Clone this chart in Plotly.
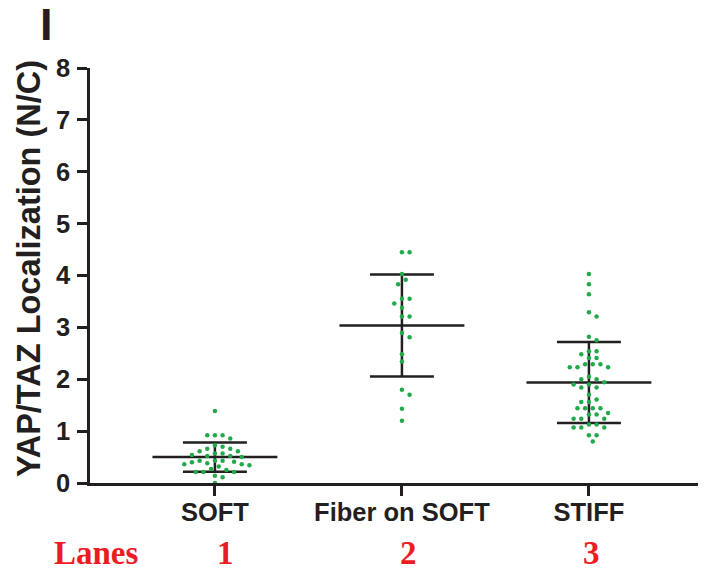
import numpy as np
import plotly.graph_objects as go

categories = ["SOFT", "Fiber on SOFT", "STIFF"]
lane_labels = ["1", "2", "3"]

soft = [1.39, 0.92, 0.92, 0.92, 0.86, 0.73, 0.70, 0.66, 0.66, 0.61, 0.61,
        0.57, 0.57, 0.54, 0.52, 0.52, 0.50, 0.43, 0.43, 0.43, 0.41, 0.40,
        0.38, 0.36, 0.36, 0.34, 0.32, 0.27, 0.25, 0.21, 0.21, 0.21, 0.14,
        0.11, 0.0]
fiber = [4.45, 4.45, 4.03, 3.92, 3.83, 3.55, 3.55, 3.46, 3.38, 3.21, 3.21,
         2.89, 2.81, 2.48, 2.34, 1.80, 1.70, 1.43, 1.20]
stiff = [4.03, 3.83, 3.64, 3.29, 3.21, 2.82, 2.75, 2.54, 2.54, 2.48, 2.41,
         2.41, 2.29, 2.29, 2.29, 2.23, 2.23, 2.23, 2.05, 2.00, 2.00, 1.94,
         1.90, 1.90, 1.84, 1.84, 1.70, 1.61, 1.56, 1.56, 1.44, 1.44, 1.44,
         1.44, 1.35, 1.32, 1.32, 1.24, 1.24, 1.24, 1.13, 1.13, 1.07, 1.07,
         1.07, 0.92, 0.92, 0.80]
groups = [soft, fiber, stiff]

DOT = "#22a94b"
INK = "#231f20"
RED = "#ed1c24"

# the page body has an 8px default margin, so the figure is sized to fit the window
PAGE = 8
W, H = 706 - PAGE, 568 - PAGE
ML, MR, MT, MB = 82, 0, 60, 85
XR = [0.332, 3.626]
YR = [0, 8]
PW, PH = W - ML - MR, H - MT - MB
px_x = PW / (XR[1] - XR[0])
px_y = PH / (YR[1] - YR[0])


def px_to_paper_x(px):
    return (px - PAGE - ML) / PW


def px_to_paper_y(py):
    return (H - MB - (py - PAGE)) / PH


def swarm(vals, d=6.5, step=3.83):
    vals = np.asarray(vals, dtype=float)
    order = np.argsort(-vals, kind="stable")
    placed = []
    offs = np.zeros(len(vals))
    cands = [0] + [s * j for j in range(1, 40) for s in (1, -1)]
    for i in order:
        y = vals[i] * px_y
        xsel = 0.0
        for c in cands:
            x = c * step
            if all((x - a) ** 2 + (y - b) ** 2 >= d * d for a, b in placed):
                xsel = x
                break
        placed.append((xsel, y))
        offs[i] = xsel / px_x
    return offs


fig = go.Figure()

for gi, vals in enumerate(groups):
    cx = gi + 1
    v = np.asarray(vals, dtype=float)
    m = v.mean()
    s = v.std(ddof=1)
    hw, cw = 0.334, 0.171
    line = dict(color=INK, width=2.5)
    fig.add_trace(go.Scatter(x=[cx, cx], y=[m - s, m + s], mode="lines",
                             line=line, hoverinfo="skip", cliponaxis=False))
    fig.add_trace(go.Scatter(x=[cx - cw, cx + cw], y=[m + s, m + s], mode="lines",
                             line=line, hoverinfo="skip", cliponaxis=False))
    fig.add_trace(go.Scatter(x=[cx - cw, cx + cw], y=[m - s, m - s], mode="lines",
                             line=line, hoverinfo="skip", cliponaxis=False))
    fig.add_trace(go.Scatter(x=[cx - hw, cx + hw], y=[m, m], mode="lines",
                             line=line, hoverinfo="skip", cliponaxis=False))
    offs = swarm(vals)
    fig.add_trace(go.Scatter(x=cx + offs, y=v, mode="markers",
                             marker=dict(color=DOT, size=4.5, line=dict(width=0)),
                             cliponaxis=False))

tickfont = dict(family="Liberation Sans", size=25.5, color=INK, weight="bold")

fig.update_layout(
    width=W, height=H,
    margin=dict(l=ML, r=MR, t=MT, b=MB),
    plot_bgcolor="white", paper_bgcolor="white",
    showlegend=False,
    xaxis=dict(range=XR, tickvals=[1, 2, 3], ticktext=categories,
               ticks="outside", ticklen=10, tickwidth=2.5, tickcolor=INK,
               showline=True, linewidth=2.5, linecolor=INK,
               showgrid=False, zeroline=False, tickfont=tickfont,
               ticklabelstandoff=-5, fixedrange=True),
    yaxis=dict(range=YR, tickvals=list(range(0, 9)),
               ticks="outside", ticklen=10, tickwidth=2.5, tickcolor=INK,
               showline=True, linewidth=2.5, linecolor=INK,
               showgrid=False, zeroline=False, tickfont=tickfont,
               ticklabelstandoff=2, fixedrange=True),
)

lane_y = px_to_paper_y(553)
annotations = [
    dict(text="YAP/TAZ Localization (N/C)", textangle=-90,
         xref="paper", yref="paper", x=px_to_paper_x(29), y=px_to_paper_y(269),
         xanchor="center", yanchor="middle", showarrow=False,
         font=dict(family="Liberation Sans", size=32.5, color=INK, weight="bold")),
    dict(text="I", xref="paper", yref="paper",
         x=px_to_paper_x(46.5), y=px_to_paper_y(25),
         xanchor="center", yanchor="middle", showarrow=False,
         font=dict(family="Liberation Sans", size=45, color=INK, weight="bold")),
    dict(text="Lanes", xref="paper", yref="paper",
         x=px_to_paper_x(96.5), y=lane_y,
         xanchor="center", yanchor="middle", showarrow=False,
         font=dict(family="Liberation Serif", size=33, color=RED, weight="bold")),
]
for i, lab in enumerate(lane_labels):
    annotations.append(dict(
        text=lab, xref="x", yref="paper", x=i + 1, xshift=[10.5, 7, 3][i],
        y=lane_y, xanchor="center", yanchor="middle", showarrow=False,
        font=dict(family="Liberation Serif", size=33, color=RED, weight="bold")))
fig.update_layout(annotations=annotations)

fig.write_html("out.html")
